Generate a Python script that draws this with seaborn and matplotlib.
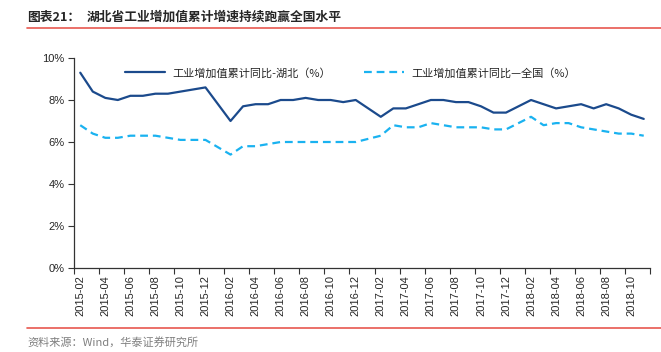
import matplotlib
matplotlib.use("Agg")
import matplotlib.pyplot as plt
from matplotlib.lines import Line2D
import seaborn as sns
import numpy as np
import pandas as pd

# monthly categories, 2015-02 .. 2018-11 (January figures are not published)
months = [p.strftime("%Y-%m") for p in pd.period_range("2015-02", "2018-11", freq="M")]

hubei = [9.3, 8.4, 8.1, 8.0, 8.2, 8.2, 8.3, 8.3, 8.4, 8.5, 8.6,
         None, 7.0, 7.7, 7.8, 7.8, 8.0, 8.0, 8.1, 8.0, 8.0, 7.9, 8.0,
         None, 7.2, 7.6, 7.6, 7.8, 8.0, 8.0, 7.9, 7.9, 7.7, 7.4, 7.4,
         None, 8.0, 7.8, 7.6, 7.7, 7.8, 7.6, 7.8, 7.6, 7.3, 7.1]

national = [6.8, 6.4, 6.2, 6.2, 6.3, 6.3, 6.3, 6.2, 6.1, 6.1, 6.1,
            None, 5.4, 5.8, 5.8, 5.9, 6.0, 6.0, 6.0, 6.0, 6.0, 6.0, 6.0,
            None, 6.3, 6.8, 6.7, 6.7, 6.9, 6.8, 6.7, 6.7, 6.7, 6.6, 6.6,
            None, 7.2, 6.8, 6.9, 6.9, 6.7, 6.6, 6.5, 6.4, 6.4, 6.3]

label_hubei = "工业增加值累计同比-湖北（%）"
label_national = "工业增加值累计同比—全国（%）"
title_num = "图表21："
title_text = "湖北省工业增加值累计增速持续跑赢全国水平"
source = "资料来源：Wind，华泰证券研究所"

sns.set_style("ticks")
plt.rcParams["font.family"] = ["Liberation Sans", "Noto Sans CJK SC", "DejaVu Sans"]
cjk = ["Noto Sans CJK SC", "DejaVu Sans"]

df = pd.DataFrame({
    "month": months,
    "pos": np.arange(len(months)) + 0.5,
    "hubei": pd.to_numeric(pd.Series(hubei), errors="coerce"),
    "national": pd.to_numeric(pd.Series(national), errors="coerce"),
})

fig = plt.figure(figsize=(6.61, 3.52), dpi=100)
ax = fig.add_axes([74 / 661, 1 - 268 / 352, (650 - 74) / 661, (268 - 58) / 352])

sns.lineplot(data=df.dropna(subset=["hubei"]), x="pos", y="hubei", ax=ax,
             color="#1B4A8C", lw=1.6, label=label_hubei)
sns.lineplot(data=df.dropna(subset=["national"]), x="pos", y="national", ax=ax,
             color="#1AB2F0", lw=1.6, ls=(0, (3.5, 2.2)), label=label_national)

ax.set_xlim(0, len(months))
ax.set_ylim(0, 10)
ax.set_yticks(np.arange(0, 11, 2))
ax.set_yticklabels([f"{v}%" for v in range(0, 11, 2)], fontsize=8)
ax.set_xticks(np.arange(0, len(months) + 1, 2))
ax.set_xticklabels([])
ax.set_xticks(np.arange(0.5, len(months), 2), minor=True)
ax.set_xticklabels(months[::2], minor=True, rotation=90, fontsize=8)
ax.tick_params(axis="x", which="major", length=4, width=0.8, color="#333333")
ax.tick_params(axis="x", which="minor", length=0, pad=5)
ax.tick_params(axis="y", length=4, width=0.8, color="#333333", pad=3)
ax.set_xlabel("")
ax.set_ylabel("")
for s in ["top", "right"]:
    ax.spines[s].set_visible(False)
for s in ["left", "bottom"]:
    ax.spines[s].set_color("#333333")
    ax.spines[s].set_linewidth(0.9)

ax.get_legend().remove()
handles, labels = ax.get_legend_handles_labels()
fig.legend(handles, labels, loc="center left", bbox_to_anchor=(125 / 661, 1 - 73 / 352),
           ncol=2, frameon=False, prop={"family": cjk, "size": 8},
           handlelength=3.6, handletextpad=0.65, columnspacing=3.0,
           borderpad=0, borderaxespad=0)

fig.text(27 / 661, 1 - 17 / 352, title_num, fontsize=9.2, fontweight="bold",
         family=cjk, va="center", ha="left")
fig.text(87 / 661, 1 - 17 / 352, title_text, fontsize=9.2, fontweight="bold",
         family=cjk, va="center", ha="left")
fig.add_artist(Line2D([27 / 661, 1], [1 - 27.5 / 352] * 2, color="#E8574F", lw=1.2))
fig.add_artist(Line2D([27 / 661, 1], [1 - 328 / 352] * 2, color="#E8574F", lw=1.2))
fig.text(27 / 661, 1 - 342 / 352, source, fontsize=8, family=cjk, color="#7F7F7F",
         va="center", ha="left")

fig.savefig("out.png", dpi=100)
